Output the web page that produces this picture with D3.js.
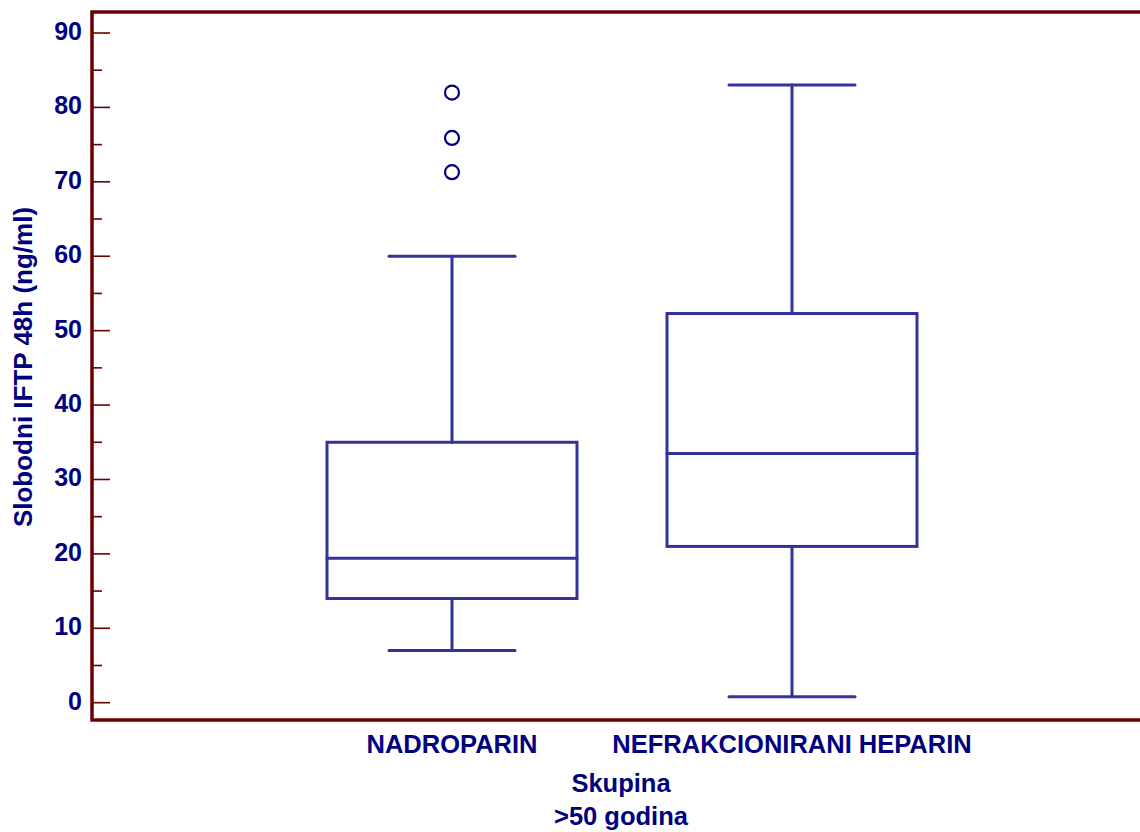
<!DOCTYPE html>
<html><head><meta charset="utf-8">
<script src="https://cdn.jsdelivr.net/npm/d3@7"></script>
<style>body{margin:0;background:#fff}svg{display:block}text{font-family:"Liberation Sans",Arial,sans-serif;font-weight:bold;fill:#000080}</style>
</head><body><svg id="c" width="1140" height="832"></svg>
<script>
const categories = ["NADROPARIN", "NEFRAKCIONIRANI HEPARIN"];
const whiskerLow = [7, 0.8];
const q1 = [14, 21];
const median = [19.4, 33.5];
const q3 = [35, 52.3];
const whiskerHigh = [60, 83];
const outliers = [[82, 75.9, 71.3], []];
const yTicks = [0, 10, 20, 30, 40, 50, 60, 70, 80, 90];
const yMinorTicks = [5, 15, 25, 35, 45, 55, 65, 75, 85];
const yLabel = "Slobodni IFTP 48h (ng/ml)";
const xLabel = ["Skupina", ">50 godina"];

const svg = d3.select("#c");
const L = 92, R = 1140, T = 12, B = 720;
const y = d3.scaleLinear().domain([0, 90]).range([702.7, 33]);
const x = d3.scalePoint().domain(categories).range([112, 1132]).padding(1);
const axisCol = "#6b0000", boxCol = "#333399";
const boxW = 250, capW = 126;

// ticks
svg.selectAll(".maj").data(yTicks).join("line")
  .attr("x1", L).attr("x2", L + 18).attr("y1", d => y(d)).attr("y2", d => y(d))
  .attr("stroke", axisCol).attr("stroke-width", 1.6);
svg.selectAll(".min").data(yMinorTicks).join("line")
  .attr("x1", L).attr("x2", L + 10).attr("y1", d => y(d)).attr("y2", d => y(d))
  .attr("stroke", axisCol).attr("stroke-width", 1.6);
svg.selectAll(".tl").data(yTicks).join("text")
  .attr("x", 82).attr("y", d => y(d) - 2).attr("dy", "0.36em")
  .attr("text-anchor", "end").attr("font-size", 25).text(d => d);

// frame
svg.append("path").attr("d", `M${R},${T}H${L}V${B}H${R}`)
  .attr("fill", "none").attr("stroke", axisCol).attr("stroke-width", 3.5);

// boxes
const g = svg.selectAll(".box").data(categories).join("g");
g.each(function(c, i) {
  const s = d3.select(this), cx = x(c);
  const ln = (x1, y1, x2, y2) => s.append("line").attr("x1", x1).attr("y1", y1).attr("x2", x2).attr("y2", y2)
    .attr("stroke", boxCol).attr("stroke-width", 3).attr("stroke-linecap", "round");
  ln(cx, y(whiskerHigh[i]), cx, y(q3[i]));
  ln(cx, y(q1[i]), cx, y(whiskerLow[i]));
  ln(cx - capW / 2, y(whiskerHigh[i]), cx + capW / 2, y(whiskerHigh[i]));
  ln(cx - capW / 2, y(whiskerLow[i]), cx + capW / 2, y(whiskerLow[i]));
  s.append("rect").attr("x", cx - boxW / 2).attr("y", y(q3[i])).attr("width", boxW)
    .attr("height", y(q1[i]) - y(q3[i])).attr("fill", "none").attr("stroke", boxCol).attr("stroke-width", 3);
  ln(cx - boxW / 2, y(median[i]), cx + boxW / 2, y(median[i]));
  s.selectAll("circle").data(outliers[i]).join("circle")
    .attr("cx", cx).attr("cy", d => y(d)).attr("r", 7)
    .attr("fill", "none").attr("stroke", "#000080").attr("stroke-width", 2.2);
});

// x tick labels
svg.selectAll(".xl").data(categories).join("text")
  .attr("x", d => x(d)).attr("y", 753).attr("text-anchor", "middle").attr("font-size", 25.5).text(d => d);
svg.selectAll(".xt").data(xLabel).join("text")
  .attr("x", 621).attr("y", (d, i) => 792 + i * 33).attr("text-anchor", "middle").attr("font-size", 25.5).text(d => d);
svg.append("text").attr("transform", "translate(32,367) rotate(-90)")
  .attr("text-anchor", "middle").attr("font-size", 26).text(yLabel);
</script></body></html>
